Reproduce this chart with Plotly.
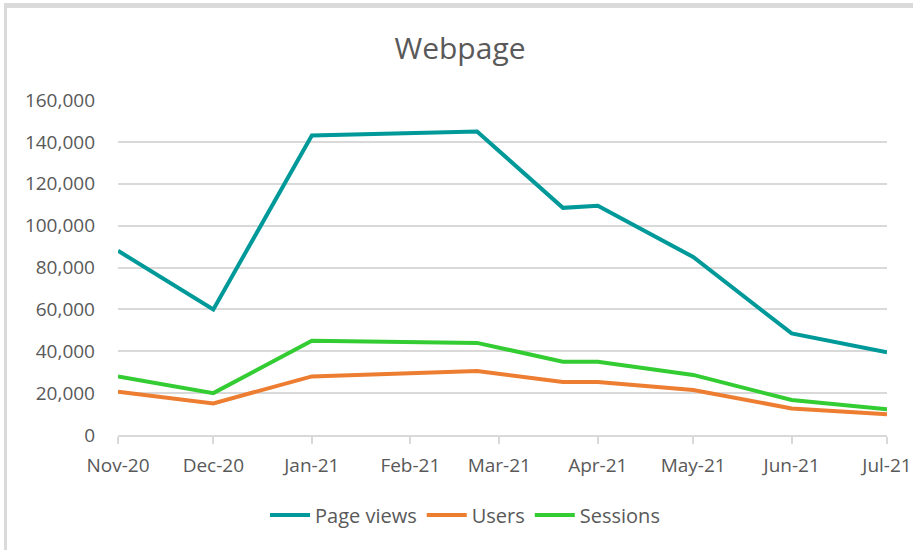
import plotly.graph_objects as go

dates = ["2020-11-01", "2020-12-01", "2021-01-01", "2021-02-22", "2021-03-21",
         "2021-04-01", "2021-05-01", "2021-06-01", "2021-07-01"]
page_views = [88000, 60000, 143000, 145000, 108500, 109500, 85000, 48500, 39500]
users = [20700, 15100, 28000, 30600, 25300, 25300, 21500, 12700, 9900]
sessions = [28000, 20000, 45000, 44000, 35000, 35000, 28700, 16700, 12300]

tick_dates = ["2020-11-01", "2020-12-01", "2021-01-01", "2021-02-01", "2021-03-01",
              "2021-04-01", "2021-05-01", "2021-06-01", "2021-07-01"]
tick_labels = ["Nov-20", "Dec-20", "Jan-21", "Feb-21", "Mar-21", "Apr-21", "May-21", "Jun-21", "Jul-21"]
y_ticks = [0, 20000, 40000, 60000, 80000, 100000, 120000, 140000, 160000]

FONT = "Open Sans"
TXT = "#595959"

fig = go.Figure()
fig.add_trace(go.Scatter(x=dates, y=page_views, name="Page views", mode="lines",
                         line=dict(color="#009999", width=4)))
fig.add_trace(go.Scatter(x=dates, y=users, name="Users", mode="lines",
                         line=dict(color="#ED7D31", width=4)))
fig.add_trace(go.Scatter(x=dates, y=sessions, name="Sessions", mode="lines",
                         line=dict(color="#33CC33", width=4)))

W, H = 913, 550
L, R, T, B = 118, 26, 100, 115
pw, ph = W - L - R, H - T - B

def px2x(p):
    return (p - L) / pw

def px2y(p):
    return (H - B - p) / ph

fig.update_layout(
    width=W, height=H,
    margin=dict(l=L, r=R, t=T, b=B, autoexpand=False),
    paper_bgcolor="white", plot_bgcolor="white",
    title=dict(text="Webpage", x=460 / W, xref="container", xanchor="center",
               y=1 - 48 / H, yref="container", yanchor="middle",
               font=dict(family=FONT, size=30, color=TXT)),
    font=dict(family=FONT, size=19, color=TXT),
    showlegend=True,
    legend=dict(orientation="h", x=px2x(465), xanchor="center", y=px2y(515), yanchor="middle",
                font=dict(family=FONT, size=20, color=TXT), itemwidth=40,
                bgcolor="rgba(0,0,0,0)"),
    xaxis=dict(type="date", range=[dates[0], dates[-1]], automargin=False,
               tickmode="array", tickvals=tick_dates, ticktext=tick_labels,
               showgrid=False, showline=True, linecolor="#d9d9d9", linewidth=1.5,
               ticks="outside", ticklen=7, tickcolor="#d9d9d9", tickwidth=1.5,
               tickfont=dict(family=FONT, size=19, color=TXT), ticklabelstandoff=5,
               zeroline=False, fixedrange=True),
    yaxis=dict(range=[0, 160000], tickmode="array", tickvals=y_ticks, automargin=False,
               tickformat=",d", showgrid=True, gridcolor="#d9d9d9", gridwidth=1.5,
               showline=False, zeroline=False, ticks="",
               tickfont=dict(family=FONT, size=19, color=TXT), ticklabelstandoff=22,
               fixedrange=True),
    shapes=[
        dict(type="line", xref="paper", yref="paper",
             x0=px2x(4), x1=px2x(W + 10), y0=px2y(5.5), y1=px2y(5.5),
             line=dict(color="#dadada", width=5), layer="below"),
        dict(type="line", xref="paper", yref="paper",
             x0=px2x(5.5), x1=px2x(5.5), y0=px2y(3), y1=px2y(H + 10),
             line=dict(color="#dadada", width=3), layer="below"),
    ],
)

fig.write_html("out.html", config={"displayModeBar": False},
               post_script="document.body.style.margin='0';document.body.style.padding='0';")
